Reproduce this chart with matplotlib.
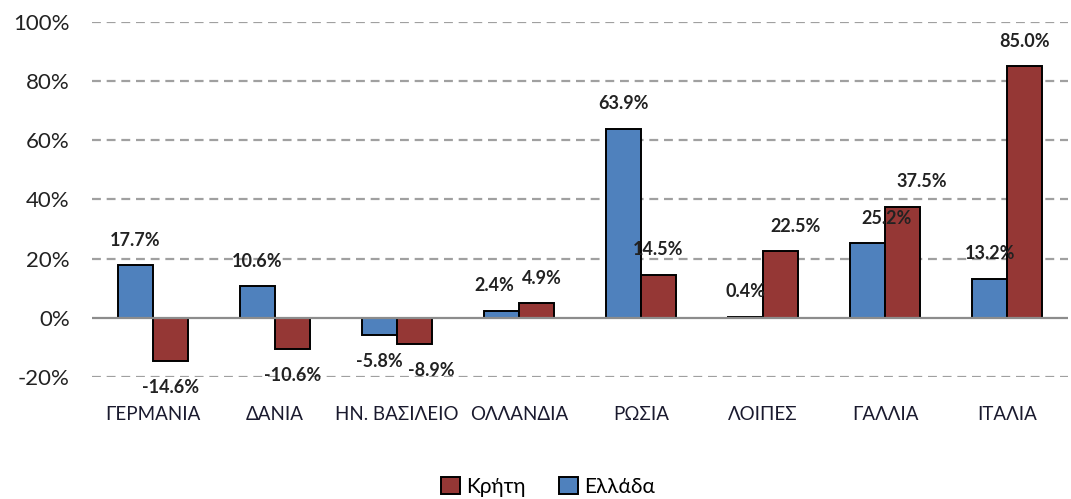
import matplotlib
matplotlib.use("Agg")
import matplotlib.pyplot as plt
import numpy as np
from matplotlib.patches import Patch

categories = ["ΓΕΡΜΑΝΙΑ", "ΔΑΝΙΑ", "ΗΝ. ΒΑΣΙΛΕΙΟ", "ΟΛΛΑΝΔΙΑ", "ΡΩΣΙΑ", "ΛΟΙΠΕΣ", "ΓΑΛΛΙΑ", "ΙΤΑΛΙΑ"]
ellada = [17.7, 10.6, -5.8, 2.4, 63.9, 0.4, 25.2, 13.2]
kriti = [-14.6, -10.6, -8.9, 4.9, 14.5, 22.5, 37.5, 85.0]
yticks = [-20, 0, 20, 40, 60, 80, 100]

# layout tweaks for label placement (horizontal nudges in points)
dx_ellada = [0, 0, 0, -5, 0, 0, 14, 0]
dx_kriti = [0, 0, 12, 4, 0, 11, 14, 0]

BLUE = "#4F81BD"
RED = "#953735"
FONT = ["Lato", "DejaVu Sans"]

plt.rcParams["font.family"] = FONT

fig = plt.figure(figsize=(10.71, 4.99), dpi=100)
ax = fig.add_axes([92 / 1071, 1 - 377 / 499, (1068 - 92) / 1071, (377 - 22) / 499])

x = np.arange(len(categories))
w = 0.285
b1 = ax.bar(x - w / 2, ellada, w, color=BLUE, edgecolor="black", linewidth=1.4, zorder=3)
b2 = ax.bar(x + w / 2, kriti, w, color=RED, edgecolor="black", linewidth=1.4, zorder=3)

ax.set_xlim(-0.5, len(categories) - 0.5)
ax.set_ylim(-20, 100)
ax.set_yticks(yticks)
ax.set_yticklabels([f"{v}%" for v in yticks], fontsize=16, color="#222222")
ax.tick_params(axis="y", length=0, pad=16)
ax.set_xticks(x)
ax.set_xticklabels(categories, fontsize=13.5, color="#1a1a2e")
ax.tick_params(axis="x", length=0, pad=21)

for s in ax.spines.values():
    s.set_visible(False)

for v in yticks:
    if v != 0:
        ax.axhline(v, color="#A0A0A0", linewidth=1.6, linestyle=(0, (4, 2.6)), zorder=1)
ax.axhline(0, color="#8C8C8C", linewidth=1.6, zorder=4)

def label(bars, vals, dxs):
    for rect, v, dx in zip(bars, vals, dxs):
        cx = rect.get_x() + rect.get_width() / 2
        off = 18 if v >= 0 else -19
        ax.annotate(f"{v:.1f}%", (cx, v), xytext=(dx, off), textcoords="offset points",
                    ha="center", va="center", fontsize=13, fontweight="bold",
                    color="#222222", zorder=5, annotation_clip=False)

label(b1, ellada, dx_ellada)
label(b2, kriti, dx_kriti)

handles = [Patch(facecolor=RED, edgecolor="black", linewidth=1.4),
           Patch(facecolor=BLUE, edgecolor="black", linewidth=1.4)]
fig.legend(handles, ["Κρήτη", "Ελλάδα"], loc="center", bbox_to_anchor=(548 / 1071, 1 - 487 / 499),
           ncol=2, frameon=False, fontsize=15, handlelength=0.9, handleheight=0.9,
           handletextpad=0.3, columnspacing=1.6)

fig.savefig("out.png", dpi=100)
